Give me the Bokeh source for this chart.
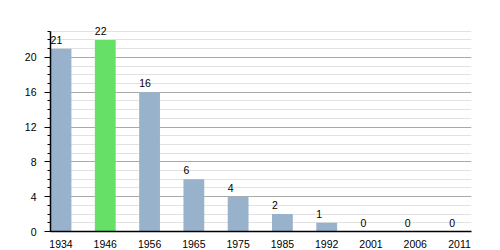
from bokeh.plotting import figure
from bokeh.models import Range1d, FixedTicker, SingleIntervalTicker, ColumnDataSource
from bokeh.core.properties import value
from bokeh.embed import file_html
from bokeh.resources import INLINE

years = ["1934", "1946", "1956", "1965", "1975", "1985", "1992", "2001", "2006", "2011"]
counts = [21, 22, 16, 6, 4, 2, 1, 0, 0, 0]
colors = ["#99b2cc", "#66e066", "#99b2cc", "#99b2cc", "#99b2cc", "#99b2cc", "#99b2cc", "#99b2cc", "#99b2cc", "#99b2cc"]
y_max = 23

xs = list(range(len(years)))
bw = 0.47
src = ColumnDataSource(dict(x=xs, top=counts, color=colors,
                            lx=[i - bw / 2 for i in xs], label=[str(c) for c in counts]))

p = figure(width=500, height=250, output_backend="svg", toolbar_location=None,
           x_range=Range1d(-0.237, 9.27), y_range=Range1d(0, 24),
           min_border_left=50, min_border_right=29, min_border_top=22, min_border_bottom=18)
p.outline_line_color = None
p.background_fill_color = "white"
p.border_fill_color = "white"

p.vbar(x="x", top="top", width=bw, color="color", source=src, line_color=None)
p.text(x="lx", y="top", text="label", source=src, text_font=value("Liberation Sans"),
       text_font_size="10.5px", text_baseline="bottom", text_align="left", y_offset=-5,
       text_color="black")

yt = SingleIntervalTicker(interval=4, num_minor_ticks=4)
p.yaxis.ticker = yt
p.yaxis.bounds = (0, y_max)
p.ygrid.ticker = yt
p.ygrid.bounds = (0, y_max)
p.ygrid.grid_line_color = "#aaaaaa"
p.ygrid.minor_grid_line_color = "#e2e2e2"
p.xgrid.grid_line_color = None

p.xaxis.ticker = FixedTicker(ticks=xs)
p.xaxis.major_label_overrides = {i: y for i, y in enumerate(years)}
p.xaxis.major_tick_line_color = None
p.xaxis.minor_tick_line_color = None
p.xaxis.major_label_standoff = 2

for ax in (p.xaxis, p.yaxis):
    ax.axis_line_color = "black"
    ax.axis_line_width = 1.5
    ax.major_label_text_font = "Liberation Sans"
    ax.major_label_text_font_size = "10.5px"
    ax.major_label_text_color = "black"

p.yaxis.major_tick_in = 0
p.yaxis.major_tick_out = 6
p.yaxis.minor_tick_in = 0
p.yaxis.minor_tick_out = 3
p.yaxis.major_tick_line_color = "black"
p.yaxis.minor_tick_line_color = "black"
p.yaxis.major_label_standoff = 8

open("out.html", "w").write(file_html(p, INLINE))
